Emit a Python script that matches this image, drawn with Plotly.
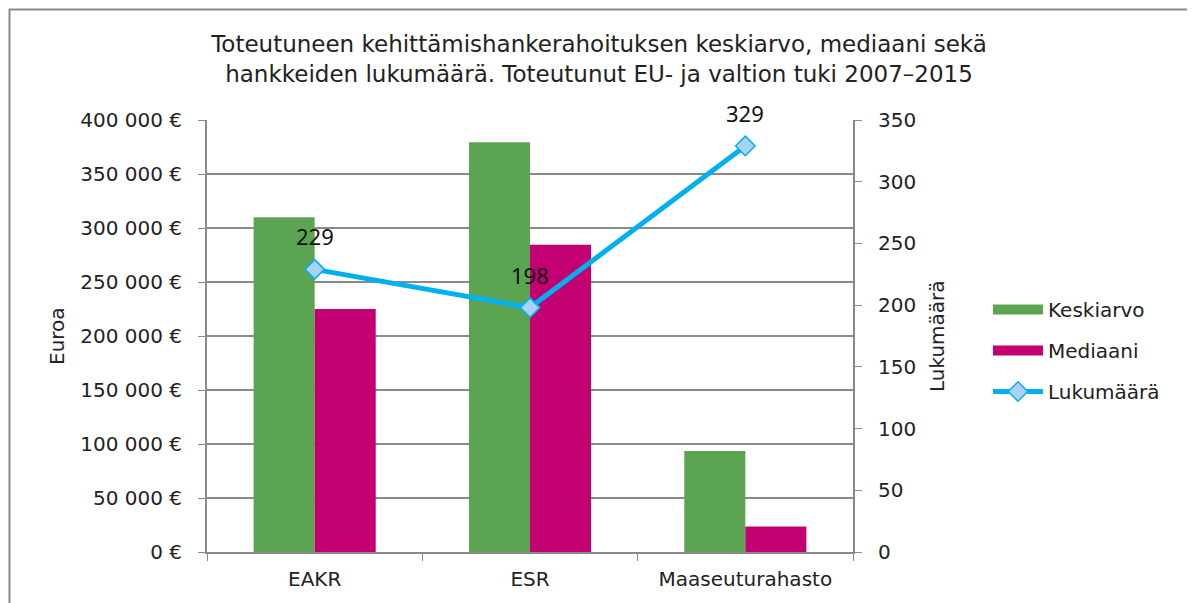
import plotly.graph_objects as go

categories = ["EAKR", "ESR", "Maaseuturahasto"]
keskiarvo = [310000, 379500, 93500]
mediaani = [225000, 284500, 23500]
lukumaara = [229, 198, 329]

left_tickvals = [0, 50000, 100000, 150000, 200000, 250000, 300000, 350000, 400000]
left_ticktext = ["0 €", "50 000 €", "100 000 €", "150 000 €", "200 000 €",
                 "250 000 €", "300 000 €", "350 000 €", "400 000 €"]
right_tickvals = [0, 50, 100, 150, 200, 250, 300, 350]

title_text = ("Toteutuneen kehittämishankerahoituksen keskiarvo, mediaani sekä<br>"
              "hankkeiden lukumäärä. Toteutunut EU- ja valtion tuki 2007–2015")

OFF = 8  # default body margin of the html page
W, H = 1195 - OFF, 603 - OFF
# plot area in screen pixels
SL, SR, ST, SB = 207, 853, 120, 552
L, R, T, B = SL - OFF, SR - OFF, ST - OFF, SB - OFF

def px(x):  # screen x -> paper
    return (x - SL) / (SR - SL)

def py(y):  # screen y -> paper
    return (SB - y) / (SB - ST)

FONT = "DejaVu Sans"
GRID = "#8a8a8a"
TXT = "#222222"
GREEN = "#5BA552"
MAGENTA = "#C20072"

fig = go.Figure()
fig.add_trace(go.Bar(x=categories, y=keskiarvo, name="Keskiarvo",
                     marker=dict(color=GREEN, line=dict(width=0)),
                     showlegend=False))
fig.add_trace(go.Bar(x=categories, y=mediaani, name="Mediaani",
                     marker=dict(color=MAGENTA, line=dict(width=0)),
                     showlegend=False))
fig.add_trace(go.Scatter(x=categories, y=lukumaara, name="Lukumäärä", yaxis="y2",
                         mode="lines+markers",
                         line=dict(color="#00B0F0", width=5),
                         marker=dict(symbol="diamond", size=15, color="#A9D2F5",
                                     line=dict(color="#00B0F0", width=1.5)),
                         legendgroup="c", legendrank=3))
# legend keys for the bar series (wide rectangles like the original)
fig.add_trace(go.Scatter(x=[None], y=[None], name="Keskiarvo", mode="lines",
                         line=dict(color=GREEN, width=12),
                         legendgroup="a", legendrank=1, hoverinfo="skip"))
fig.add_trace(go.Scatter(x=[None], y=[None], name="Mediaani", mode="lines",
                         line=dict(color=MAGENTA, width=12),
                         legendgroup="b", legendrank=2, hoverinfo="skip"))

annotations = []
for c, v in zip(categories, lukumaara):
    annotations.append(dict(x=c, y=v, xref="x", yref="y2", text=str(v),
                            showarrow=False, yshift=33,
                            font=dict(family="Noto Sans", size=22, color="#111")))
annotations.append(dict(x=px(57), y=py(336), xref="paper", yref="paper",
                        xanchor="center", yanchor="middle",
                        text="Euroa", textangle=-90, showarrow=False,
                        font=dict(family=FONT, size=20, color=TXT)))
annotations.append(dict(x=px(937), y=py(336), xref="paper", yref="paper",
                        xanchor="center", yanchor="middle",
                        text="Lukumäärä", textangle=-90, showarrow=False,
                        font=dict(family=FONT, size=20, color=TXT)))

fig.update_layout(
    width=W, height=H,
    margin=dict(l=L, r=W - R, t=T, b=H - B, autoexpand=False),
    paper_bgcolor="white", plot_bgcolor="white",
    barmode="group", bargap=0.433, bargroupgap=0,
    font=dict(family=FONT, size=20, color=TXT),
    title=dict(text=title_text, x=(599 - OFF) / W, xanchor="center", xref="container",
               y=1 - (52 - OFF) / H, yanchor="middle", yref="container",
               font=dict(family=FONT, size=23, color=TXT)),
    xaxis=dict(type="category", showline=True, linecolor=GRID, linewidth=2,
               ticks="outside", tickson="boundaries", ticklen=7, tickcolor=GRID,
               tickfont=dict(size=20), ticklabelstandoff=8, showgrid=False),
    yaxis=dict(range=[0, 400000], tickvals=left_tickvals, ticktext=left_ticktext,
               showline=True, linecolor=GRID, linewidth=2, ticks="outside",
               ticklen=7, tickcolor=GRID, showgrid=True, gridcolor=GRID,
               gridwidth=1.5, zeroline=False, ticklabelstandoff=12,
               tickfont=dict(size=20)),
    yaxis2=dict(range=[0, 350], tickvals=right_tickvals, overlaying="y",
                side="right", showline=True, linecolor=GRID, linewidth=2,
                ticks="outside", ticklen=7, tickcolor=GRID, showgrid=False,
                zeroline=False, ticklabelstandoff=12, tickfont=dict(size=20)),
    legend=dict(x=px(988), y=py(290), xanchor="left", yanchor="top",
                font=dict(family=FONT, size=20, color=TXT),
                tracegroupgap=12, itemwidth=50, bgcolor="rgba(0,0,0,0)"),
    annotations=annotations,
    shapes=[dict(type="rect", xref="paper", yref="paper",
                 x0=px(9.5), x1=px(1240), y0=py(9.5), y1=py(660),
                 line=dict(color="#8a8a8a", width=2), layer="below")],
    showlegend=True,
)

fig.write_html("out.html")
